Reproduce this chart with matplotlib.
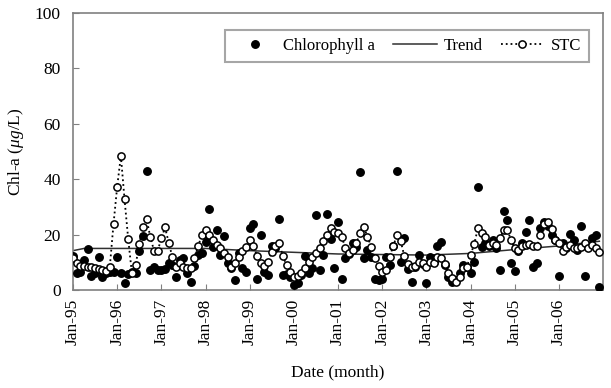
import matplotlib
matplotlib.use("Agg")
import matplotlib.pyplot as plt
import numpy as np

plt.rcParams['font.family'] = ['Liberation Serif', 'DejaVu Serif']
plt.rcParams['mathtext.fontset'] = 'custom'
plt.rcParams['mathtext.rm'] = 'Liberation Serif'
plt.rcParams['mathtext.it'] = 'Liberation Serif:italic'

# monthly chlorophyll a, Jan 1995 - Dec 2006 (ug/L)
chla = [
    12.3, 6.0, 6.5, 10.8, 14.7, 5.1, 6.0, 11.8, 4.8, 6.2, 6.4, 6.6,
    12.0, 6.0, 2.6, 5.8, 6.5, 6.0, 14.2, 19.5, 43.1, 7.2, 8.4, 7.2,
    7.2, 7.5, 9.6, 9.0, 4.8, 10.8, 11.4, 6.0, 3.0, 8.5, 12.5, 13.2,
    17.4, 29.1, 15.6, 21.6, 12.6, 19.5, 9.6, 8.0, 3.6, 13.2, 7.8, 6.6,
    22.3, 23.8, 3.9, 19.8, 6.6, 5.4, 15.9, 15.0, 25.8, 5.4, 5.8, 4.8,
    1.8, 2.6, 5.5, 12.3, 6.0, 8.0, 27.0, 7.2, 12.6, 27.4, 18.5, 7.8,
    24.7, 3.8, 11.4, 13.0, 16.8, 15.6, 42.5, 11.4, 14.4, 12.0, 3.9, 3.6,
    3.9, 12.0, 9.0, 16.0, 43.1, 10.2, 18.6, 7.5, 3.0, 8.4, 12.6, 9.5,
    2.4, 12.0, 10.0, 15.9, 17.4, 9.0, 4.8, 3.0, 3.5, 6.0, 9.0, 8.4,
    6.0, 10.2, 37.1, 15.6, 17.0, 16.0, 18.0, 15.0, 7.2, 28.5, 25.4, 9.9,
    7.0, 14.0, 17.0, 21.0, 25.4, 8.4, 9.9, 22.3, 24.7, 23.0, 20.0, 18.0,
    5.1, 16.9, 15.0, 20.3, 18.0, 14.5, 23.1, 5.1, 15.5, 18.6, 20.0, 1.2,
]

# seasonal + trend component
stc = [
    11.4, 9.6, 8.8, 8.5, 8.3, 8.2, 8.0, 7.6, 7.2, 7.0, 8.4, 23.8,
    37.3, 48.4, 32.7, 18.3, 6.0, 8.9, 16.6, 22.6, 25.5, 19.2, 14.2, 14.2,
    18.6, 22.6, 17.1, 11.8, 8.4, 9.6, 8.4, 8.0, 7.8, 11.4, 15.9, 19.8,
    21.7, 19.8, 18.0, 16.3, 15.1, 13.5, 11.8, 8.4, 9.6, 12.0, 14.0, 15.6,
    18.0, 15.9, 12.3, 9.6, 8.7, 10.2, 13.8, 15.9, 16.8, 12.3, 9.0, 6.6,
    4.8, 5.0, 6.0, 7.8, 10.2, 12.0, 13.2, 15.0, 17.8, 19.8, 22.3, 21.1,
    20.5, 19.3, 15.0, 13.5, 14.4, 17.1, 20.5, 22.6, 19.3, 15.6, 11.4, 8.5,
    6.6, 7.2, 12.0, 15.9, 19.8, 17.8, 12.3, 9.3, 8.4, 8.7, 10.2, 9.6,
    8.4, 10.2, 9.6, 12.0, 11.4, 9.3, 6.2, 4.2, 3.0, 4.8, 7.8, 8.4,
    12.6, 16.6, 22.3, 20.5, 19.3, 16.3, 16.9, 16.3, 18.6, 21.7, 21.7, 18.0,
    15.1, 14.3, 15.9, 16.3, 16.6, 15.9, 15.7, 19.8, 23.9, 24.5, 22.0, 18.0,
    16.9, 14.2, 15.4, 16.3, 15.3, 15.0, 15.5, 16.9, 15.0, 16.3, 15.0, 13.8,
]

# long-term trend, sampled each January (last point Dec 2006)
trend_month = [0, 3, 12, 24, 36, 48, 60, 72, 84, 96, 108, 120, 132, 143]
trend_value = [14.2, 15.0, 15.0, 15.0, 15.0, 14.2, 13.6, 13.0, 12.8, 12.6, 13.2, 14.6, 15.9, 17.6]

tick_labels = ['Jan-95', 'Jan-96', 'Jan-97', 'Jan-98', 'Jan-99', 'Jan-00',
               'Jan-01', 'Jan-02', 'Jan-03', 'Jan-04', 'Jan-05', 'Jan-06']

months = np.arange(len(chla))

fig = plt.figure(figsize=(6.11, 3.88), dpi=100)
ax = fig.add_axes([0.1195, 0.2526, 0.8675, 0.714])

ax.plot(months, chla, 'o', color='black', markersize=5.4, linestyle='none',
        label='Chlorophyll a', zorder=3)
ax.plot(trend_month, trend_value, '-', color='#303030', linewidth=1.1,
        label='Trend', zorder=2)
ax.plot(months, stc, ':', color='black', linewidth=1.3, marker='o',
        markersize=5.2, markerfacecolor='white', markeredgecolor='black',
        markeredgewidth=1.1, label='STC', zorder=4)

ax.set_xlim(0, 144)
ax.set_ylim(0, 100)
ax.set_xticks(np.arange(0, 144, 12))
ax.set_xticklabels(tick_labels, rotation=90, fontsize=12.5)
ax.set_yticks(np.arange(0, 101, 20))
ax.tick_params(axis='y', labelsize=12.5, pad=9)
ax.tick_params(axis='x', pad=6)
ax.tick_params(direction='in', length=4, color='#808080')

for s in ax.spines.values():
    s.set_color('#808080')
    s.set_linewidth(1.2)

ax.set_xlabel('Date (month)', fontsize=12.5, labelpad=14)
ax.set_ylabel(r'Chl-a ($\mu g$/L)', fontsize=12.5, labelpad=6)

leg = ax.legend(loc='upper right', bbox_to_anchor=(0.99, 0.97), ncol=3,
                fontsize=12, frameon=True, fancybox=False, handlelength=2.6,
                columnspacing=1.1, handletextpad=0.4, borderpad=0.5)
leg.get_frame().set_edgecolor('#909090')
leg.get_frame().set_linewidth(1.5)

fig.savefig('out.png', dpi=100)
